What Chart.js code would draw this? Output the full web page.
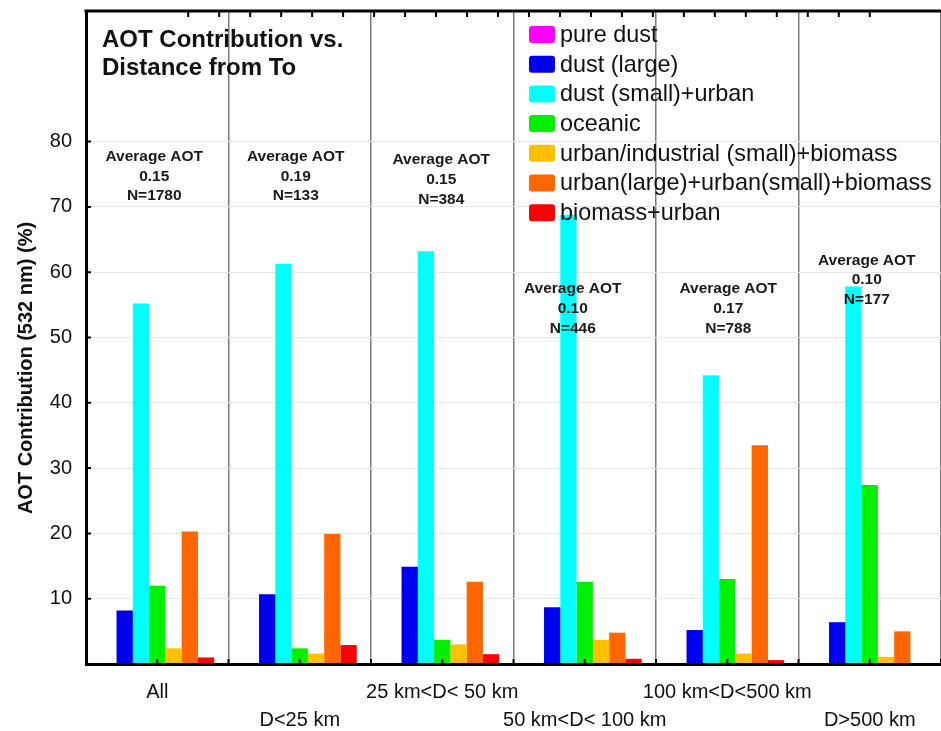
<!DOCTYPE html>
<html>
<head>
<meta charset="utf-8">
<script src="https://cdn.jsdelivr.net/npm/chart.js@4/dist/chart.umd.min.js"></script>
<style>
  html, body { margin: 0; padding: 0; background: #fff; overflow: hidden; }
  #wrap { width: 941px; height: 731px; }
</style>
</head>
<body>
<div id="wrap"><canvas id="c" width="941" height="731"></canvas></div>
<script>
// Distance classes (x categories)
const categories = ['All', 'D<25 km', '25 km<D< 50 km', '50 km<D< 100 km', '100 km<D<500 km', 'D>500 km'];

// Aerosol types
const seriesNames = [
  'pure dust',
  'dust (large)',
  'dust (small)+urban',
  'oceanic',
  'urban/industrial (small)+biomass',
  'urban(large)+urban(small)+biomass',
  'biomass+urban'
];

// AOT contribution (%) per distance class
const pureDust       = [0, 0, 0, 0, 0, 0];
const dustLarge      = [8.2, 10.7, 14.9, 8.7, 5.2, 6.4];
const dustSmallUrban = [55.2, 61.3, 63.2, 68.8, 44.2, 57.8];
const oceanic        = [12.0, 2.4, 3.7, 12.6, 13.0, 27.4];
const urbanIndSmall  = [2.4, 1.6, 3.0, 3.7, 1.6, 1.1];
const urbanLarge     = [20.3, 19.9, 12.6, 4.8, 33.5, 5.0];
const biomassUrban   = [1.0, 2.9, 1.5, 0.8, 0.6, 0.0];

// Per-class summary
const avgAot = ['0.15', '0.19', '0.15', '0.10', '0.17', '0.10'];
const sampleCounts = [1780, 133, 384, 446, 788, 177];

// Labelled value-axis ticks
const yTickLabels = [10, 20, 30, 40, 50, 60, 70, 80];

// Where each summary block sits (value-axis units for the first line, pixel nudge in x)
const noteTop = [77.7, 77.7, 77.2, 57.4, 57.4, 61.8];
const noteDx = [-3, -4, -1, -12, 1, -3];

const colors = ['#ff00ff', '#0000f0', '#00ffff', '#00f000', '#ffc000', '#ff6600', '#ff0000'];
const seriesValues = [pureDust, dustLarge, dustSmallUrban, oceanic, urbanIndSmall, urbanLarge, biomassUrban];

const FONT = '"Liberation Sans", Arial, Helvetica, sans-serif';

const decor = {
  id: 'decor',
  afterDatasetsDraw(chart) {
    const { ctx, chartArea: a, scales } = chart;
    const x = scales.x, y = scales.y, xTop = scales.xTop;
    ctx.save();

    // frame along the top
    ctx.strokeStyle = '#000';
    ctx.lineWidth = 3;
    ctx.beginPath();
    ctx.moveTo(a.left - 1.5, a.top);
    ctx.lineTo(a.right, a.top);
    ctx.stroke();

    // inward tick marks
    ctx.lineWidth = 2;
    ctx.beginPath();
    for (let k = 1; k <= xTop.max; k++) {
      const px = xTop.getPixelForValue(k);
      ctx.moveTo(px, a.top);
      ctx.lineTo(px, a.top + 6);
    }
    for (let i = 0; i < categories.length; i++) {
      const c = x.getPixelForValue(i);
      ctx.moveTo(c, a.bottom);
      ctx.lineTo(c, a.bottom - 5);
      const b = x.getPixelForValue(i + 0.5);
      ctx.moveTo(b, a.bottom);
      ctx.lineTo(b, a.bottom - 5);
    }
    yTickLabels.forEach(v => {
      const py = y.getPixelForValue(v);
      ctx.moveTo(a.left, py);
      ctx.lineTo(a.left + 5, py);
    });
    ctx.stroke();

    // chart title
    ctx.fillStyle = '#111';
    ctx.font = 'bold 24px ' + FONT;
    ctx.textAlign = 'left';
    ctx.textBaseline = 'alphabetic';
    ctx.fillText('AOT Contribution vs.', a.left + 16, 47);
    ctx.fillText('Distance from To', a.left + 16, 75);

    // per-class summary text
    ctx.font = 'bold 15.5px ' + FONT;
    ctx.textAlign = 'center';
    ctx.textBaseline = 'middle';
    ctx.fillStyle = '#1a1a1a';
    categories.forEach((_, i) => {
      const cx = x.getPixelForValue(i) + noteDx[i];
      const ty = y.getPixelForValue(noteTop[i]);
      ctx.fillText('Average AOT', cx, ty);
      ctx.fillText(avgAot[i], cx, ty + 19.7);
      ctx.fillText('N=' + sampleCounts[i], cx, ty + 39.4);
    });

    // legend
    const lx = 529, ly0 = 34.5, step = 29.7;
    ctx.font = '23.4px ' + FONT;
    ctx.textAlign = 'left';
    ctx.textBaseline = 'middle';
    chart.data.datasets.forEach((ds, i) => {
      const cy = ly0 + i * step;
      ctx.fillStyle = ds.backgroundColor;
      ctx.beginPath();
      if (ctx.roundRect) ctx.roundRect(lx, cy - 8.5, 26, 17, 3); else ctx.rect(lx, cy - 8.5, 26, 17);
      ctx.fill();
      ctx.fillStyle = '#111';
      ctx.fillText(ds.label, lx + 31, cy + 1);
    });

    // value-axis title
    ctx.save();
    ctx.translate(26, 368);
    ctx.rotate(-Math.PI / 2);
    ctx.font = 'bold 20px ' + FONT;
    ctx.textAlign = 'center';
    ctx.textBaseline = 'middle';
    ctx.fillStyle = '#111';
    ctx.fillText('AOT Contribution (532 nm) (%)', 0, 0);
    ctx.restore();

    ctx.restore();
  }
};

new Chart(document.getElementById('c'), {
  type: 'bar',
  data: {
    labels: categories,
    datasets: seriesNames.map((name, i) => ({
      label: name,
      data: seriesValues[i],
      backgroundColor: colors[i],
      borderWidth: 0,
      categoryPercentage: 0.8,
      barPercentage: 1.0
    }))
  },
  options: {
    responsive: false,
    animation: false,
    devicePixelRatio: 1,
    layout: { padding: { top: 11, right: 0, bottom: 0, left: 0 } },
    plugins: {
      legend: { display: false },
      tooltip: { enabled: false },
      title: { display: false }
    },
    scales: {
      x: {
        type: 'category',
        position: 'bottom',
        offset: true,
        grid: {
          offset: true,
          drawTicks: false,
          lineWidth: 1.5,
          color: ctx => (ctx.index === 0 || ctx.index === categories.length) ? 'rgba(0,0,0,0)' : '#7c7c7c'
        },
        border: { display: true, color: '#000', width: 3, z: 1 },
        ticks: {
          padding: 14,
          color: '#111',
          font: { family: FONT, size: 20, lineHeight: 1.4 },
          maxRotation: 0,
          autoSkip: false,
          callback: (v, i) => (i % 2 === 0 ? [categories[i], ''] : ['', categories[i]])
        },
        afterFit: s => { s.height = 67; }
      },
      xTop: {
        type: 'linear',
        position: 'top',
        display: false,
        min: 0,
        max: 23
      },
      y: {
        type: 'linear',
        min: 0,
        max: 100,
        grid: {
          drawTicks: false,
          lineWidth: 1,
          color: ctx => yTickLabels.includes(ctx.tick && ctx.tick.value) ? '#e6e6e6' : 'rgba(0,0,0,0)'
        },
        border: { display: true, color: '#000', width: 3, z: 1 },
        ticks: {
          stepSize: 10,
          padding: 14,
          color: '#111',
          font: { family: FONT, size: 20 },
          callback: v => (yTickLabels.includes(v) ? String(v) : '')
        },
        afterFit: s => { s.width = 86; s.paddingTop = 0; s.paddingBottom = 0; }
      }
    }
  },
  plugins: [decor]
});
</script>
</body>
</html>
